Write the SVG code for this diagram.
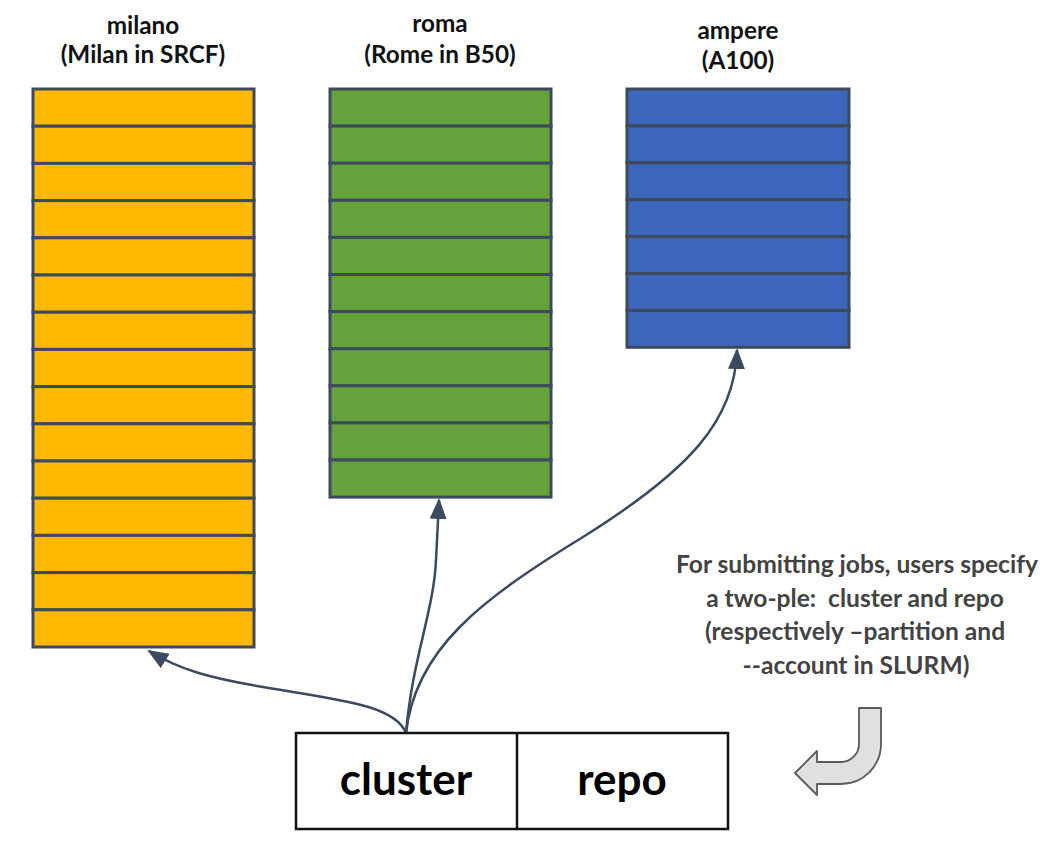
<svg xmlns="http://www.w3.org/2000/svg" width="1054" height="845" viewBox="0 0 1054 845">
<style>
.title{font-family:Lato,"Liberation Sans",sans-serif;font-weight:bold;font-size:24.3px;fill:#111;text-anchor:middle}
.note{font-family:Lato,"Liberation Sans",sans-serif;font-weight:bold;font-size:24.6px;fill:#434343;text-anchor:middle}
.big{font-family:Lato,"Liberation Sans",sans-serif;font-weight:bold;font-size:44px;fill:#000;text-anchor:middle}
.row{stroke:#3d4a5c;stroke-width:3}
.orange{fill:#ffb800}
.green{fill:#66a23c}
.blue{fill:#3d67bd}
.conn{fill:none;stroke:#3b4a60;stroke-width:2.5}
</style>
<defs>
<marker id="ah" markerUnits="userSpaceOnUse" markerWidth="24" markerHeight="18" refX="19" refY="8.5" orient="auto">
<path d="M0,0 L21,8.5 L0,17 z" fill="#3b4a60"/>
</marker>
</defs>
<rect width="1054" height="845" fill="#fff"/>

<g id="milano">
<text class="title" x="143" y="34">milano</text>
<text class="title" x="143" y="63">(Milan in SRCF)</text>
<g class="orange">
<rect class="row" x="33" y="89" width="221" height="37.2"/>
<rect class="row" x="33" y="126.2" width="221" height="37.2"/>
<rect class="row" x="33" y="163.4" width="221" height="37.2"/>
<rect class="row" x="33" y="200.6" width="221" height="37.2"/>
<rect class="row" x="33" y="237.8" width="221" height="37.2"/>
<rect class="row" x="33" y="275" width="221" height="37.2"/>
<rect class="row" x="33" y="312.2" width="221" height="37.2"/>
<rect class="row" x="33" y="349.4" width="221" height="37.2"/>
<rect class="row" x="33" y="386.6" width="221" height="37.2"/>
<rect class="row" x="33" y="423.8" width="221" height="37.2"/>
<rect class="row" x="33" y="461" width="221" height="37.2"/>
<rect class="row" x="33" y="498.2" width="221" height="37.2"/>
<rect class="row" x="33" y="535.4" width="221" height="37.2"/>
<rect class="row" x="33" y="572.6" width="221" height="37.2"/>
<rect class="row" x="33" y="609.8" width="221" height="37.2"/>
</g>
</g>

<g id="roma">
<text class="title" x="440" y="32">roma</text>
<text class="title" x="440" y="63">(Rome in B50)</text>
<g class="green">
<rect class="row" x="330" y="89" width="221" height="37.1"/>
<rect class="row" x="330" y="126.1" width="221" height="37.1"/>
<rect class="row" x="330" y="163.2" width="221" height="37.1"/>
<rect class="row" x="330" y="200.3" width="221" height="37.1"/>
<rect class="row" x="330" y="237.4" width="221" height="37.1"/>
<rect class="row" x="330" y="274.5" width="221" height="37.1"/>
<rect class="row" x="330" y="311.6" width="221" height="37.1"/>
<rect class="row" x="330" y="348.7" width="221" height="37.1"/>
<rect class="row" x="330" y="385.8" width="221" height="37.1"/>
<rect class="row" x="330" y="422.9" width="221" height="37.1"/>
<rect class="row" x="330" y="460" width="221" height="37.1"/>
</g>
</g>

<g id="ampere">
<text class="title" x="738" y="39">ampere</text>
<text class="title" x="738" y="69">(A100)</text>
<g class="blue">
<rect class="row" x="627" y="89" width="222" height="36.9"/>
<rect class="row" x="627" y="125.9" width="222" height="36.9"/>
<rect class="row" x="627" y="162.8" width="222" height="36.9"/>
<rect class="row" x="627" y="199.7" width="222" height="36.9"/>
<rect class="row" x="627" y="236.6" width="222" height="36.9"/>
<rect class="row" x="627" y="273.5" width="222" height="36.9"/>
<rect class="row" x="627" y="310.4" width="222" height="36.9"/>
</g>
</g>

<g id="connectors">
<path class="conn" marker-end="url(#ah)" d="M406,733 C395,705 340,700 263,687 C210,678 180,670 149,651"/>
<path class="conn" marker-end="url(#ah)" d="M406,733 C412,660 434,610 436,560 C437,540 438,522 439,500"/>
<path class="conn" marker-end="url(#ah)" d="M406,733 C415,650 480,600 583,537 C690,470 735,420 737,350"/>
</g>

<g id="tuple">
<rect x="296" y="733" width="432" height="96" fill="#fff" stroke="#111" stroke-width="2.5"/>
<line x1="517" y1="733" x2="517" y2="829" stroke="#111" stroke-width="2.5"/>
<text class="big" x="406" y="795">cluster</text>
<text class="big" x="622" y="795">repo</text>
</g>

<g id="note">
<text class="note" x="857" y="573">For submitting jobs, users specify</text>
<text class="note" x="855" y="607" xml:space="preserve">a two-ple:  cluster and repo</text>
<text class="note" x="855" y="640">(respectively –partition and</text>
<text class="note" x="856" y="674">--account in SLURM)</text>
</g>

<g id="uturn">
<path d="M881,708 L881,744 A40,40 0 0 1 841,784 L817,784 L817,795 L795,773 L817,751 L817,762 L841,762 A18,18 0 0 0 859,744 L859,708 Z" fill="#e0e0e0" stroke="#5a5a5a" stroke-width="1.8" stroke-linejoin="round"/>
</g>
</svg>
